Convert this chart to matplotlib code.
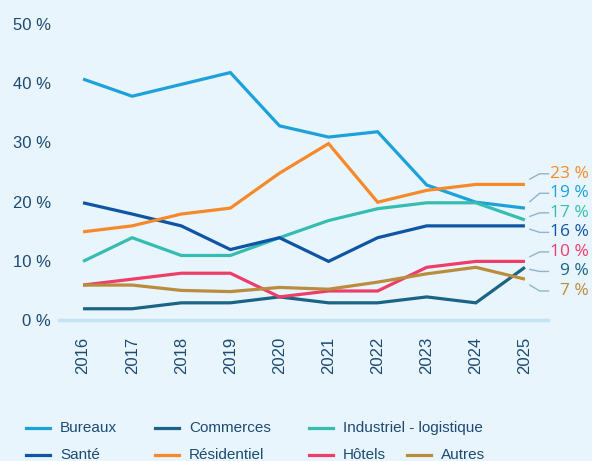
import matplotlib.pyplot as plt
from matplotlib.lines import Line2D
import numpy as np

plt.rcParams['font.family'] = ['Liberation Sans', 'DejaVu Sans']

# données
years = ['2016', '2017', '2018', '2019', '2020', '2021', '2022', '2023', '2024', '2025']
bureaux = [40.7, 37.8, 39.8, 41.8, 32.8, 30.9, 31.8, 22.8, 19.9, 18.9]
commerces = [1.9, 1.9, 2.9, 2.9, 3.9, 2.9, 2.9, 3.9, 2.9, 8.9]
industriel = [9.9, 13.9, 10.9, 10.9, 13.9, 16.8, 18.8, 19.8, 19.8, 16.9]
sante = [19.8, 17.9, 15.9, 11.9, 13.9, 9.9, 13.9, 15.9, 15.9, 15.9]
residentiel = [14.9, 15.9, 17.9, 18.9, 24.8, 29.8, 19.9, 21.9, 22.9, 22.9]
hotels = [5.9, 6.9, 7.9, 7.9, 3.9, 4.9, 4.9, 8.9, 9.9, 9.9]
autres = [5.9, 5.9, 5.0, 4.8, 5.5, 5.2, 6.4, 7.8, 8.9, 6.9]

series = [
    ('Bureaux', bureaux, '#1DA1DB'),
    ('Commerces', commerces, '#1A6586'),
    ('Industriel - logistique', industriel, '#35BDB2'),
    ('Santé', sante, '#0F55A5'),
    ('Résidentiel', residentiel, '#F6892A'),
    ('Hôtels', hotels, '#EE3D69'),
    ('Autres', autres, '#BA8C3E'),
]

bg = '#E8F5FC'
navy = '#1D4A72'

fig = plt.figure(figsize=(5.92, 4.61), dpi=100, facecolor=bg)
ax = fig.add_axes([59 / 592, 1 - 320 / 461, (548 - 59) / 592, (320 - 24) / 461])
ax.set_facecolor(bg)

x = np.arange(len(years))
for name, vals, col in series:
    ax.plot(x, vals, color=col, lw=2.3, solid_joinstyle='miter', solid_capstyle='butt')

ax.set_xlim(-0.49, 9.47)
ax.set_ylim(0, 50)
ax.set_yticks([0, 10, 20, 30, 40, 50])
ax.set_yticklabels(['0 %', '10 %', '20 %', '30 %', '40 %', '50 %'])
ax.set_xticks(x)
ax.set_xticklabels(years, rotation=90)
ax.tick_params(length=0, labelsize=12, colors=navy)
ax.tick_params(axis='y', pad=6)
ax.tick_params(axis='x', pad=12)
for s in ['top', 'right', 'left']:
    ax.spines[s].set_visible(False)
ax.spines['bottom'].set_color('#C3E4F5')
ax.spines['bottom'].set_linewidth(2.5)

# étiquettes de fin de série
ends = sorted([(vals[-1], col) for name, vals, col in series], reverse=True)
for i, (v, col) in enumerate(ends):
    ly = 24.7 - 3.3 * i
    sy = v + np.clip(0.5 * (ly - v), -1.1, 1.1)
    ax.plot([9.1, 9.3, 9.48], [sy, ly, ly], color='#8FB5C9', lw=1.0, clip_on=False)
    ax.text(10.3, ly, f'{round(v)} %', color=col, fontsize=12.5, ha='right', va='center',
            family=['Open Sans', 'DejaVu Sans'])

# légende
cols_x = [26, 155, 309, 407]
rows_y = [428, 455]
slots = [(0, 0), (0, 1), (0, 2), (1, 0), (1, 1), (1, 2), (1, 3)]
for (name, vals, col), (r, c) in zip(series, slots):
    yy = 1 - rows_y[r] / 461
    x0 = cols_x[c] / 592
    fig.add_artist(Line2D([x0, x0 + 24 / 592], [yy, yy], color=col, lw=2.3,
                          transform=fig.transFigure))
    fig.text(x0 + 34 / 592, yy, name, color=navy, fontsize=11, va='center')

fig.savefig('out.png', dpi=100, facecolor=bg)
